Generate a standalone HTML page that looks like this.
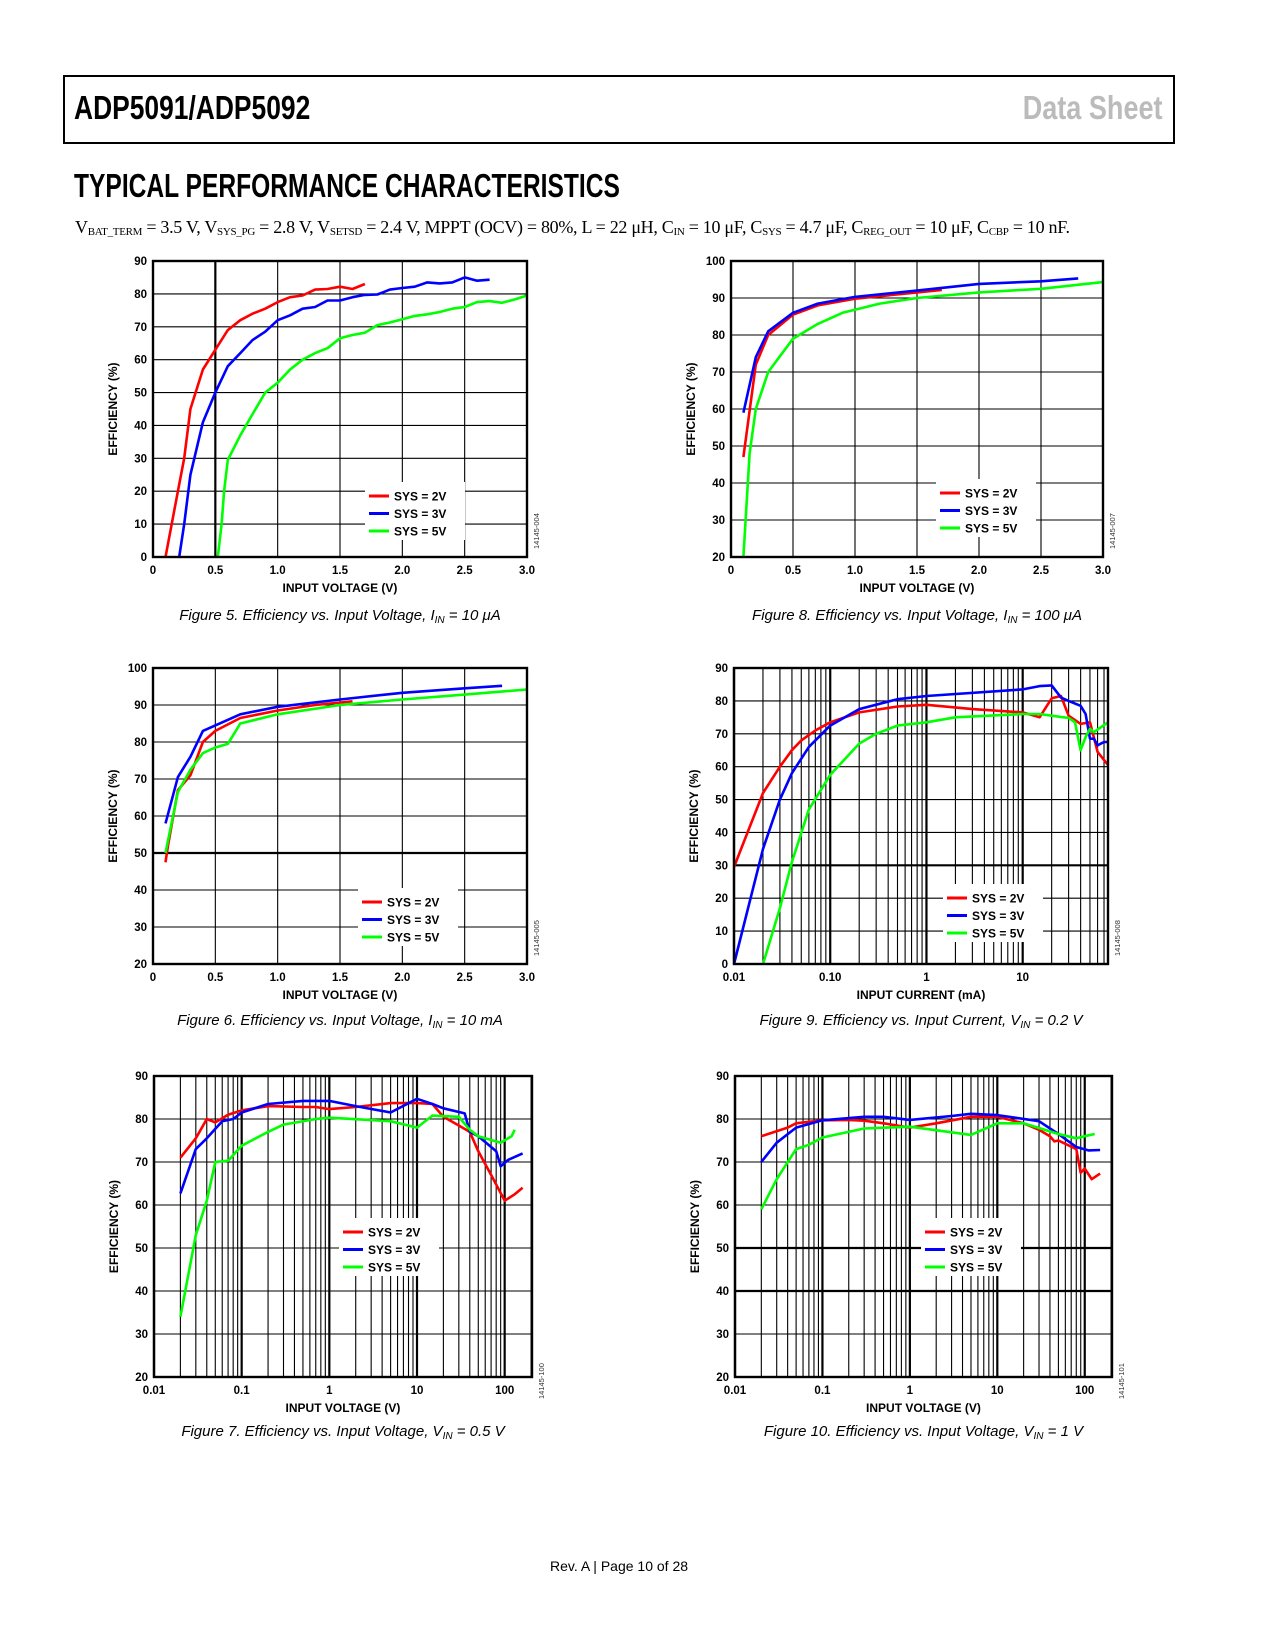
<!DOCTYPE html>
<html><head><meta charset="utf-8">
<style>
body{margin:0;background:#fff;}
#pg{position:relative;width:1275px;height:1650px;overflow:hidden;background:#fff;font-family:"Liberation Sans",sans-serif;}
.hdr{position:absolute;left:63px;top:75px;width:1108px;height:65px;border:2px solid #000;}
.t1{position:absolute;left:74px;top:89px;font:bold 33px "Liberation Sans Narrow","Liberation Sans",sans-serif;transform:scaleX(0.8);transform-origin:left;}
.t2{position:absolute;right:112px;top:89px;font:bold 33px "Liberation Sans Narrow","Liberation Sans",sans-serif;color:#bbb;transform:scaleX(0.82);transform-origin:right;}
.sec{position:absolute;left:74px;top:167px;font:bold 33px "Liberation Sans Narrow","Liberation Sans",sans-serif;transform:scaleX(0.745);transform-origin:left;}
.sub{position:absolute;left:75px;top:217px;font:18px "Liberation Serif",serif;white-space:nowrap;letter-spacing:-0.3px;}
.sub sub{font-size:11px;vertical-align:-2px;}
.foot{position:absolute;left:0;width:1238px;top:1558px;text-align:center;font-size:14px;}
svg{position:absolute;left:0;top:0;}
</style></head><body><div id="pg">
<div class="hdr"></div>
<div class="t1">ADP5091/ADP5092</div>
<div class="t2">Data Sheet</div>
<div class="sec">TYPICAL PERFORMANCE CHARACTERISTICS</div>
<div class="sub">V<sub>BAT_TERM</sub> = 3.5 V, V<sub>SYS_PG</sub> = 2.8 V, V<sub>SETSD</sub> = 2.4 V, MPPT (OCV) = 80%, L = 22 μH, C<sub>IN</sub> = 10 μF, C<sub>SYS</sub> = 4.7 μF, C<sub>REG_OUT</sub> = 10 μF, C<sub>CBP</sub> = 10 nF.</div>
<div class="foot">Rev. A | Page 10 of 28</div>
<svg id="s" width="1275" height="1650" xmlns="http://www.w3.org/2000/svg"></svg>
</div>
<script>
var S=document.getElementById('s'),out='';
function lin(c,x){if(c.log){return c.x0+(Math.log10(x)-Math.log10(c.xmin))/(Math.log10(c.xmax)-Math.log10(c.xmin))*(c.x1-c.x0);}return c.x0+(x-c.xmin)/(c.xmax-c.xmin)*(c.x1-c.x0);}
function ly(c,y){return c.y1-(y-c.ymin)/(c.ymax-c.ymin)*(c.y1-c.y0);}
function chart(c){
 var i,g='';
 for(var v=c.ymin;v<=c.ymax;v+=10){var y=ly(c,v);g+='<line x1="'+c.x0+'" x2="'+c.x1+'" y1="'+y+'" y2="'+y+'" stroke="#000" stroke-width="'+((c.thickY&&c.thickY.indexOf(v)>=0)?2.2:1.1)+'"/>';
  g+='<text x="'+(c.x0-6)+'" y="'+(y+4)+'" text-anchor="end" font-size="11.5" font-weight="bold">'+v+'</text>';}
 if(c.log){
  var d0=Math.floor(Math.log10(c.xmin));
  for(var d=d0;d<4;d++)for(var k=1;k<10;k++){var xv=k*Math.pow(10,d);if(xv<c.xmin*0.999||xv>c.xmax)continue;var x=lin(c,xv);
   g+='<line x1="'+x+'" x2="'+x+'" y1="'+c.y0+'" y2="'+c.y1+'" stroke="#000" stroke-width="'+(k==1?2.2:1.1)+'"/>';}
  c.xl.forEach(function(t){var x=lin(c,t[0]);g+='<text x="'+x+'" y="'+(c.y1+17)+'" text-anchor="middle" font-size="11.5" font-weight="bold">'+t[1]+'</text>';});
 }else{
  for(i=0;i<=6;i++){var xv=i*0.5,x=lin(c,xv);if(i>0&&i<6)g+='<line x1="'+x+'" x2="'+x+'" y1="'+c.y0+'" y2="'+c.y1+'" stroke="#000" stroke-width="'+(i==1&&c.thick05?2.2:1.1)+'"/>';
   g+='<text x="'+x+'" y="'+(c.y1+17)+'" text-anchor="middle" font-size="11.5" font-weight="bold">'+(i==0?c.zero:xv.toFixed(1))+'</text>';}
 }
 var L=c.leg;
 g+='<rect x="'+(L[0]-4)+'" y="'+(L[1]-14)+'" width="'+(L[2])+'" height="58" fill="#fff"/>';
 var cols=['#f00','#00f','#0f0'],names=['SYS = 2V','SYS = 3V','SYS = 5V'];
 c.ser.forEach(function(s,j){var p=s.map(function(q){return lin(c,q[0]).toFixed(1)+','+ly(c,q[1]).toFixed(1);}).join(' ');
  g+='<polyline points="'+p+'" fill="none" stroke="'+cols[j]+'" stroke-width="2.6" stroke-linejoin="round"/>';});
 for(i=0;i<3;i++){var yy=L[1]+i*17.5;g+='<line x1="'+L[0]+'" x2="'+(L[0]+20)+'" y1="'+yy+'" y2="'+yy+'" stroke="'+cols[i]+'" stroke-width="3"/>';
  g+='<text x="'+(L[0]+25)+'" y="'+(yy+4.5)+'" font-size="12" font-weight="bold">'+names[i]+'</text>';}
 g+='<rect x="'+c.x0+'" y="'+c.y0+'" width="'+(c.x1-c.x0)+'" height="'+(c.y1-c.y0)+'" fill="none" stroke="#000" stroke-width="2.4"/>';
 var cx=(c.x0+c.x1)/2,cy=(c.y0+c.y1)/2;
 g+='<text x="'+cx+'" y="'+(c.y1+35)+'" text-anchor="middle" font-size="12" font-weight="bold">'+c.xt+'</text>';
 g+='<text transform="translate('+(c.x0-36)+','+cy+') rotate(-90)" text-anchor="middle" font-size="12" font-weight="bold">EFFICIENCY (%)</text>';
 g+='<text transform="translate('+(c.x1+12)+','+(c.y1-8+(c.idy||0))+') rotate(-90)" font-size="7.5" fill="#333">'+c.id+'</text>';
 g+='<text x="'+cx+'" y="'+(c.y1+c.capdy)+'" text-anchor="middle" font-size="15" font-style="italic" font-family="Liberation Sans Narrow, Liberation Sans, sans-serif">'+c.cap+'</text>';
 out+=g;
}
var R1=[261,557],R2=[668,964],R3=[1076,1377];
chart({x0:153,x1:527,y0:R1[0],y1:R1[1],xmin:0,xmax:3,ymin:0,ymax:90,zero:'0',thick05:true,xt:'INPUT VOLTAGE (V)',id:'14145-004',capdy:63,
 cap:'Figure 5. Efficiency vs. Input Voltage, I<tspan font-size="10" dy="3">IN</tspan><tspan dy="-3"> = 10 μA</tspan>',leg:[369,496,100],
 ser:[[[0.1,0],[0.15,10],[0.2,20],[0.25,30],[0.3,45],[0.4,57],[0.5,63],[0.6,69],[0.7,72],[0.8,74],[0.9,75.5],[1.0,77.5],[1.1,79],[1.2,79.5],[1.3,81.3],[1.4,81.5],[1.5,82.2],[1.6,81.5],[1.7,83]],
 [[0.21,0],[0.25,10],[0.3,25],[0.4,41],[0.5,50],[0.6,58],[0.7,62],[0.8,66],[0.9,68.5],[1.0,72],[1.1,73.5],[1.2,75.5],[1.3,76],[1.4,78],[1.5,78],[1.6,79],[1.7,79.7],[1.8,79.8],[1.9,81.3],[2.0,81.8],[2.1,82.2],[2.2,83.5],[2.3,83.2],[2.4,83.5],[2.5,85],[2.6,84],[2.7,84.3]],
 [[0.52,0],[0.55,10],[0.57,20],[0.6,29.5],[0.7,37],[0.8,43.5],[0.9,50],[1.0,53],[1.1,57],[1.2,60],[1.3,62],[1.4,63.5],[1.5,66.5],[1.6,67.5],[1.7,68.2],[1.8,70.5],[1.9,71.3],[2.0,72.3],[2.1,73.3],[2.2,73.8],[2.3,74.5],[2.4,75.5],[2.5,76],[2.6,77.5],[2.7,77.8],[2.8,77.3],[2.9,78.3],[3.0,79.5]]]});
chart({x0:731,x1:1103,y0:R1[0],y1:R1[1],xmin:0,xmax:3,ymin:20,ymax:100,zero:'0',xt:'INPUT VOLTAGE (V)',id:'14145-007',capdy:63,
 cap:'Figure 8. Efficiency vs. Input Voltage, I<tspan font-size="10" dy="3">IN</tspan><tspan dy="-3"> = 100 μA</tspan>',leg:[940,493,100],
 ser:[[[0.1,47],[0.2,72],[0.3,80],[0.5,85.5],[0.7,88],[1.0,89.8],[1.5,91.5],[1.7,92.2]],
 [[0.1,59],[0.2,74],[0.3,81],[0.5,86],[0.7,88.5],[1.0,90.3],[1.5,92],[2.0,93.8],[2.5,94.5],[2.8,95.3]],
 [[0.1,20],[0.15,48],[0.2,60],[0.3,70],[0.5,79],[0.7,83],[0.9,86],[1.2,88.5],[1.5,90],[2.0,91.5],[2.5,92.5],[3.0,94.3]]]});
chart({x0:153,x1:527,y0:R2[0],y1:R2[1],xmin:0,xmax:3,ymin:20,ymax:100,zero:'0',thickY:[50],xt:'INPUT VOLTAGE (V)',id:'14145-005',capdy:61,
 cap:'Figure 6. Efficiency vs. Input Voltage, I<tspan font-size="10" dy="3">IN</tspan><tspan dy="-3"> = 10 mA</tspan>',leg:[362,902,100],
 ser:[[[0.1,47.5],[0.12,52],[0.2,67],[0.3,71],[0.4,80],[0.5,83],[0.7,86.5],[1.0,88.5],[1.3,90],[1.6,91]],
 [[0.1,58],[0.2,70.5],[0.3,76],[0.4,83],[0.5,84.5],[0.7,87.5],[1.0,89.5],[1.5,91.5],[2.0,93.3],[2.5,94.5],[2.8,95.2]],
 [[0.1,50],[0.2,66.5],[0.3,72.5],[0.4,77],[0.5,78.5],[0.6,79.5],[0.7,85],[1.0,87.5],[1.5,90],[2.0,91.5],[2.5,92.8],[3.0,94.2]]]});
chart({x0:734,x1:1108,y0:R2[0],y1:R2[1],log:true,xmin:0.01,xmax:77,ymin:0,ymax:90,thickY:[30],xt:'INPUT CURRENT (mA)',id:'14145-008',capdy:61,
 xl:[[0.01,'0.01'],[0.1,'0.10'],[1,'1'],[10,'10']],
 cap:'Figure 9. Efficiency vs. Input Current, V<tspan font-size="10" dy="3">IN</tspan><tspan dy="-3"> = 0.2 V</tspan>',leg:[947,898,100],
 ser:[[[0.01,29.5],[0.02,52],[0.03,60],[0.04,65],[0.05,68],[0.07,71],[0.1,73.5],[0.2,76.5],[0.5,78.3],[1,78.8],[3,77.5],[10,76.5],[15,75],[20,80.8],[25,81.5],[30,75.5],[40,73],[50,73.5],[60,64.5],[77,60.5]],
 [[0.01,0],[0.02,35],[0.03,50],[0.04,58],[0.06,66],[0.1,72.5],[0.2,77.5],[0.5,80.5],[1,81.5],[10,83.5],[15,84.5],[20,84.7],[25,81],[30,80],[40,78.5],[45,76],[50,68.5],[55,68.5],[60,66.5],[70,67.5],[77,67.5]],
 [[0.02,0],[0.03,17],[0.04,31],[0.06,47],[0.1,57.5],[0.2,67],[0.3,70],[0.5,72.5],[1,73.5],[2,75],[10,76],[15,76],[20,75.5],[30,74.8],[35,73.5],[40,65],[45,69],[50,71.5],[55,70.5],[77,73.5]]]});
chart({x0:154,x1:532,y0:R3[0],y1:R3[1],log:true,xmin:0.01,xmax:205,ymin:20,ymax:90,xt:'INPUT VOLTAGE (V)',id:'14145-100',idy:30,capdy:59,
 xl:[[0.01,'0.01'],[0.1,'0.1'],[1,'1'],[10,'10'],[100,'100']],
 cap:'Figure 7. Efficiency vs. Input Voltage, V<tspan font-size="10" dy="3">IN</tspan><tspan dy="-3"> = 0.5 V</tspan>',leg:[343,1232,100],
 ser:[[[0.02,71],[0.03,75.5],[0.04,80],[0.05,79.2],[0.07,81],[0.1,82],[0.2,83],[0.5,82.8],[0.7,82.8],[1,82.3],[2,82.8],[5,83.7],[10,83.7],[15,83.5],[20,80.5],[30,78.5],[40,77],[50,72.5],[70,67],[100,61],[130,62.5],[160,64]],
 [[0.02,62.7],[0.03,73],[0.04,75.5],[0.06,79.5],[0.08,80],[0.1,81.5],[0.2,83.5],[0.5,84.2],[1,84.2],[2,83],[5,81.5],[10,84.7],[15,83.5],[20,82.5],[35,81.3],[40,77],[50,76],[80,72.5],[90,69],[110,70.5],[160,72]],
 [[0.02,34],[0.03,53],[0.04,61],[0.05,70],[0.07,70.3],[0.1,73.8],[0.2,77],[0.3,78.7],[0.7,80],[1,80.3],[5,79.5],[10,78],[15,80.8],[30,80.5],[40,77.5],[50,76],[90,74.5],[120,76],[130,77.5]]]});
chart({x0:735,x1:1112,y0:R3[0],y1:R3[1],log:true,xmin:0.01,xmax:205,ymin:20,ymax:90,thickY:[40,50],xt:'INPUT VOLTAGE (V)',id:'14145-101',idy:30,capdy:59,
 xl:[[0.01,'0.01'],[0.1,'0.1'],[1,'1'],[10,'10'],[100,'100']],
 cap:'Figure 10. Efficiency vs. Input Voltage, V<tspan font-size="10" dy="3">IN</tspan><tspan dy="-3"> = 1 V</tspan>',leg:[925,1232,100],
 ser:[[[0.02,76],[0.04,78],[0.05,79],[0.1,79.7],[0.2,79.8],[0.3,79.6],[0.5,79],[1,78],[2,79],[5,80.5],[10,80.5],[20,79],[30,77.5],[40,76],[45,74.8],[50,75],[80,73],[90,67.5],[100,68.5],[120,66],[150,67.3]],
 [[0.02,70],[0.03,74.5],[0.05,78],[0.1,79.7],[0.3,80.5],[0.5,80.5],[1,79.8],[3,80.7],[5,81.2],[10,80.9],[30,79.5],[50,76.5],[80,73.5],[110,72.7],[150,72.8]],
 [[0.02,59],[0.03,66],[0.05,73],[0.07,74],[0.1,75.7],[0.3,77.8],[1,78.2],[5,76.3],[10,79],[20,79],[50,76.5],[80,75.5],[100,76],[130,76.5]]]});
S.innerHTML=out;
</script>
</body></html>
